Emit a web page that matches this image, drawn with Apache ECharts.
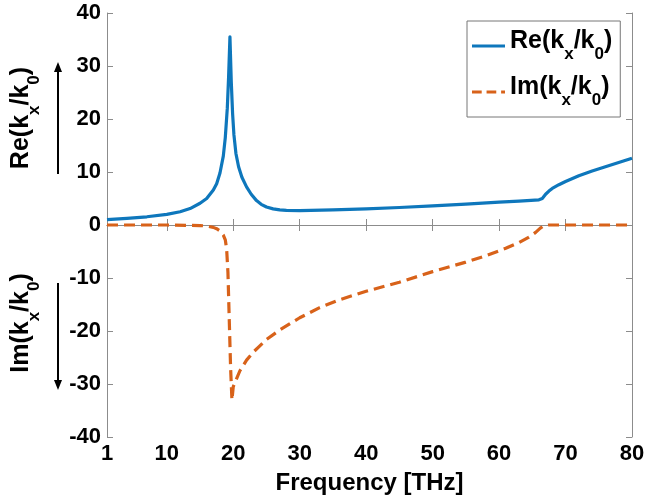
<!DOCTYPE html>
<html>
<head>
<meta charset="utf-8">
<script src="https://cdn.jsdelivr.net/npm/echarts@6/dist/echarts.min.js"></script>
<style>
html,body{margin:0;padding:0;background:#fff;}
#chart{width:672px;height:502px;}
</style>
</head>
<body>
<div id="chart"></div>
<script>
// ---- data ----
const xTicks = [1, 10, 20, 30, 40, 50, 60, 70, 80];
const reFreq = [1, 4, 7, 10, 12, 13.5, 15, 16, 17, 17.5, 18, 18.5, 18.8, 19.1, 19.3, 19.5, 19.7, 19.9, 20.1, 20.4, 20.8, 21.3, 22, 22.7, 23.5, 24.2, 25, 26, 27, 28, 30, 35, 40, 45, 50, 55, 60, 63, 66, 66.5, 67, 67.5, 68, 69, 70, 72, 74, 76, 78, 80];
const reVal  = [1.0, 1.25, 1.55, 2.0, 2.5, 3.1, 4.1, 5.0, 6.6, 7.8, 9.8, 13, 16.5, 22, 28, 35.5, 27, 21, 17, 13.5, 11, 9, 7.2, 5.8, 4.6, 3.9, 3.4, 3.05, 2.85, 2.75, 2.7, 2.85, 3.05, 3.3, 3.6, 3.95, 4.3, 4.5, 4.75, 5.0, 5.8, 6.4, 6.9, 7.6, 8.2, 9.3, 10.2, 11.0, 11.8, 12.6];
const imFreq = [1, 10, 15, 16, 17, 17.5, 18, 18.5, 18.8, 19.0, 19.2, 19.4, 19.6, 19.8, 20, 21, 22, 23, 24, 25, 27, 30, 33, 36, 40, 45, 50, 55, 58, 61, 63, 64.5, 65.5, 66.2, 66.8, 67.4, 70, 80];
const imVal  = [0, 0, -0.1, -0.2, -0.45, -0.7, -1.1, -1.9, -2.8, -4.5, -9, -18, -27, -33, -30.5, -27.5, -25.5, -24, -22.8, -21.6, -19.8, -17.5, -15.6, -14.1, -12.5, -10.8, -8.8, -7.0, -5.8, -4.4, -3.3, -2.3, -1.4, -0.6, -0.1, 0, 0, 0];
const seriesNames = ['Re', 'Im'];

const blue = '#0E77BC';
const orange = '#D8621A';
const axisGray = '#8c8c8c';
const FONT = '"Liberation Sans", Arial, sans-serif';

const chart = echarts.init(document.getElementById('chart'));

const richStyles = {
  a: { fontFamily: FONT, fontWeight: 'bold', fontSize: 25, color: '#000', lineHeight: 25, verticalAlign: 'top' },
  b: { fontFamily: FONT, fontWeight: 'bold', fontSize: 17, color: '#000', lineHeight: 34, verticalAlign: 'bottom' }
};
function labelText(p) { return '{a|' + p + '(k}{b|x}{a|/k}{b|0}{a|)}'; }

const tickCommon = { show: true, inside: true, length: 6, customValues: xTicks, lineStyle: { color: axisGray } };

const option = {
  animation: false,
  backgroundColor: '#fff',
  grid: { left: 107, right: 40, top: 13, bottom: 65, containLabel: false },
  legend: {
    orient: 'vertical',
    left: 467, top: 21,
    padding: [8, 8, 8, 5],
    itemGap: 12,
    itemWidth: 33, itemHeight: 3,
    backgroundColor: '#fff',
    borderColor: '#777', borderWidth: 1,
    data: [
      { name: seriesNames[0], icon: 'path://M0,0h34v3h-34z' },
      { name: seriesNames[1], icon: 'path://M0,0h10v3h-10z M15,0h10v3h-10z M30,0h4v3h-4z' }
    ],
    formatter: function (n) { return labelText(n); },
    textStyle: { rich: richStyles }
  },
  xAxis: [{
    type: 'value', min: 1, max: 80, position: 'bottom',
    name: 'Frequency [THz]', nameLocation: 'middle', nameGap: 34,
    nameTextStyle: { fontFamily: FONT, fontWeight: 'bold', fontSize: 24, color: '#000' },
    axisLine: { show: true, lineStyle: { color: axisGray, width: 1 } },
    axisTick: tickCommon,
    axisLabel: { customValues: xTicks, fontFamily: FONT, fontWeight: 'bold', fontSize: 22, color: '#000', margin: 6 },
    splitLine: { show: false }
  }, {
    type: 'value', min: 1, max: 80, position: 'top',
    axisLine: { show: true, lineStyle: { color: axisGray, width: 1 } },
    axisTick: tickCommon,
    axisLabel: { show: false },
    splitLine: { show: false }
  }],
  yAxis: [{
    type: 'value', min: -40, max: 40, interval: 10, position: 'left',
    axisLine: { show: true, lineStyle: { color: axisGray, width: 1 } },
    axisTick: { show: true, inside: true, length: 6, lineStyle: { color: axisGray } },
    axisLabel: { fontFamily: FONT, fontWeight: 'bold', fontSize: 22, color: '#000', margin: 6 },
    splitLine: { show: false }
  }, {
    type: 'value', min: -40, max: 40, interval: 10, position: 'right',
    axisLine: { show: true, lineStyle: { color: axisGray, width: 1 } },
    axisTick: { show: true, inside: true, length: 6, lineStyle: { color: axisGray } },
    axisLabel: { show: false },
    splitLine: { show: false }
  }],
  series: [{
    name: seriesNames[0], type: 'line', xAxisIndex: 0, yAxisIndex: 0,
    data: reFreq.map((f, i) => [f, reVal[i]]),
    showSymbol: false, symbol: 'none',
    lineStyle: { color: blue, width: 3.2, join: 'round' }, itemStyle: { color: blue }
  }, {
    name: seriesNames[1], type: 'line', xAxisIndex: 0, yAxisIndex: 0,
    data: imFreq.map((f, i) => [f, imVal[i]]),
    showSymbol: false, symbol: 'none',
    lineStyle: { color: orange, width: 3.2, type: [11, 6], join: 'round' }, itemStyle: { color: orange }
  }],
  graphic: [
    { type: 'text', x: 26, y: 118, rotation: Math.PI / 2,
      style: { text: labelText('Re'), rich: richStyles, align: 'center', verticalAlign: 'middle' } },
    { type: 'text', x: 26, y: 323, rotation: Math.PI / 2,
      style: { text: labelText('Im'), rich: richStyles, align: 'center', verticalAlign: 'middle' } },
    { type: 'line', shape: { x1: 58, y1: 174, x2: 58, y2: 70 }, style: { stroke: '#000', lineWidth: 2 } },
    { type: 'polygon', shape: { points: [[58, 62], [54, 72], [62, 72]] }, style: { fill: '#000' } },
    { type: 'line', shape: { x1: 58, y1: 283, x2: 58, y2: 382 }, style: { stroke: '#000', lineWidth: 2 } },
    { type: 'polygon', shape: { points: [[58, 390], [54, 380], [62, 380]] }, style: { fill: '#000' } }
  ]
};
chart.setOption(option);
</script>
</body>
</html>
